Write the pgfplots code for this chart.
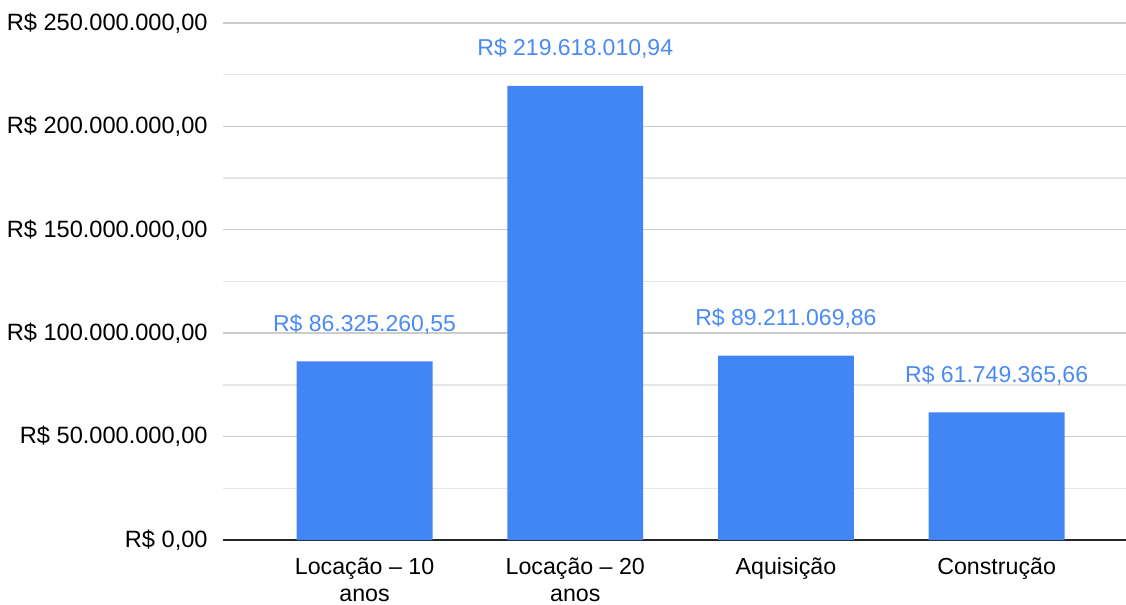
\documentclass[border=0pt]{standalone}
\usepackage{pgfplots}
\pgfplotsset{compat=1.18}
\usepackage{fontspec}
\setmainfont{Liberation Sans}
\definecolor{barblue}{HTML}{4285F4}
\definecolor{lblblue}{HTML}{4A8AF4}
\definecolor{majgrid}{HTML}{CCCCCC}
\definecolor{mingrid}{HTML}{E6E6E6}
\newcommand\st{\rule{0pt}{11pt}}
\begin{document}
\begin{tikzpicture}
\begin{axis}[
  scale only axis,
  width=451.5pt, height=258.5pt,
  xmin=-0.672, xmax=3.614,
  ymin=0, ymax=250000000,
  scaled y ticks=false,
  axis x line*=bottom,
  axis y line*=left,
  y axis line style={draw=none},
  x axis line style={draw=black!85, line width=1pt, -},
  xtick={0,1,2,3},
  xticklabels={{\st Locação – 10\\anos},{\st Locação – 20\\anos},{\st Aquisição},{\st Construção}},
  xticklabel style={font=\fontsize{11.6}{13.5}\selectfont, align=center, inner sep=0pt, anchor=north, yshift=-6pt},
  ytick={0,50000000,100000000,150000000,200000000,250000000},
  yticklabels={{R\$ 0,00},{R\$ 50.000.000,00},{R\$ 100.000.000,00},{R\$ 150.000.000,00},{R\$ 200.000.000,00},{R\$ 250.000.000,00}},
  yticklabel style={font=\fontsize{11.8}{13.5}\selectfont, inner sep=0pt, anchor=east, xshift=-7.5pt},
  minor ytick={25000000,75000000,125000000,175000000,225000000},
  ymajorgrids, yminorgrids,
  major grid style={draw=majgrid, line width=0.7pt},
  minor grid style={draw=mingrid, line width=0.7pt},
  major tick length=0pt, minor tick length=0pt,
  tick style={draw=none},
  clip=false,
  ybar, bar width=0.645,
  point meta=explicit symbolic,
  nodes near coords,
  nodes near coords style={font=\fontsize{11.5}{13.5}\selectfont, text=lblblue, anchor=base, inner sep=0pt, yshift=15pt},
]
\addplot[fill=barblue, draw=none] coordinates {
  (0,86325260.55) [R\$ 86.325.260,55]
  (1,219618010.94) [R\$ 219.618.010,94]
  (2,89211069.86) [R\$ 89.211.069,86]
  (3,61749365.66) [R\$ 61.749.365,66]
};
\end{axis}
\pgfresetboundingbox
\path[use as bounding box] ([xshift=-111.5pt,yshift=-32pt]current axis.south west) rectangle ([yshift=11.5pt]current axis.north east);
\end{tikzpicture}
\end{document}
